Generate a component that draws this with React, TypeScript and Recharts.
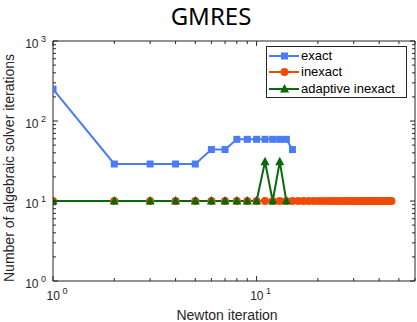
import { LineChart, Line, XAxis, YAxis, Legend } from 'recharts';

// exact Newton: GMRES iterations per Newton step
const exactIter = [1, 2, 3, 4, 5, 6, 7, 8, 9, 10, 11, 12, 13, 14, 15];
const exactCount = [250, 29, 29, 29, 29, 44, 44, 59, 59, 59, 59, 59, 59, 59, 44];

const inexactIter = [
  1, 2, 3, 4, 5, 6, 7, 8, 9, 10, 11, 12, 13, 14, 15, 16, 17, 18, 19, 20, 21, 22, 23,
  24, 25, 26, 27, 28, 29, 30, 31, 32, 33, 34, 35, 36, 37, 38, 39, 40, 41, 42, 43, 44, 45, 46,
];
const inexactCount = [
  10, 10, 10, 10, 10, 10, 10, 10, 10, 10, 10, 10, 10, 10, 10, 10, 10, 10, 10, 10, 10, 10, 10,
  10, 10, 10, 10, 10, 10, 10, 10, 10, 10, 10, 10, 10, 10, 10, 10, 10, 10, 10, 10, 10, 10, 10,
];

const adaptiveIter = [1, 2, 3, 4, 5, 6, 7, 8, 9, 10, 11, 12, 13, 14];
const adaptiveCount = [10, 10, 10, 10, 10, 10, 10, 10, 10, 10, 31, 10, 31, 10];

const xTicks = [1, 2, 3, 4, 5, 6, 7, 8, 9, 10, 20, 30, 40, 50, 60];
const yTicks = [
  1, 2, 3, 4, 5, 6, 7, 8, 9, 10, 20, 30, 40, 50, 60, 70, 80, 90,
  100, 200, 300, 400, 500, 600, 700, 800, 900, 1000,
];
const decades = [1, 10, 100, 1000];

const BLUE = '#4a7cf6';
const ORANGE = '#f04a04';
const GREEN = '#0a6a0a';
const AXIS = '#262626';
const FONT = '"Liberation Sans", Arial, sans-serif';

const exactData = exactIter.map((x, i) => ({ x, y: exactCount[i] }));
const inexactData = inexactIter.map((x, i) => ({ x, y: inexactCount[i] }));
const adaptiveData = adaptiveIter.map((x, i) => ({ x, y: adaptiveCount[i] }));

const isMajor = (v: number) => decades.includes(v);
const expOf = (v: number) => String(Math.round(Math.log10(v)));

function Pow({ x, y, v, anchor }: any) {
  return (
    <text x={x} y={y} textAnchor={anchor} fontSize={12} fill={AXIS} fontFamily={FONT}>
      <tspan>10</tspan>
      <tspan dy={-6} fontSize={9}>{' ' + expOf(v)}</tspan>
    </text>
  );
}

function BottomTick({ x, y, payload }: any) {
  const v = payload.value;
  const m = isMajor(v);
  return (
    <g>
      <line x1={x} x2={x} y1={y} y2={y - (m ? 5 : 3)} stroke={AXIS} />
      {m && <Pow x={x + 4} y={y + 19} v={v} anchor="middle" />}
    </g>
  );
}

function TopTick({ x, y, payload }: any) {
  const m = isMajor(payload.value);
  return <line x1={x} x2={x} y1={y} y2={y + (m ? 5 : 3)} stroke={AXIS} />;
}

function LeftTick({ x, y, payload }: any) {
  const v = payload.value;
  const m = isMajor(v);
  return (
    <g>
      <line x1={x} x2={x + (m ? 5 : 3)} y1={y} y2={y} stroke={AXIS} />
      {m && <Pow x={x - 7} y={y + 7} v={v} anchor="end" />}
    </g>
  );
}

function RightTick({ x, y, payload }: any) {
  const m = isMajor(payload.value);
  return <line x1={x} x2={x - (m ? 5 : 3)} y1={y} y2={y} stroke={AXIS} />;
}

function Square({ cx, cy, index }: any) {
  return <rect key={index} x={cx - 3.5} y={cy - 3.5} width={7} height={7} fill={BLUE} />;
}

function Dot({ cx, cy, index }: any) {
  return <circle key={index} cx={cx} cy={cy} r={4} fill={ORANGE} />;
}

function Tri({ cx, cy, index }: any) {
  return (
    <polygon
      key={index}
      points={`${cx},${cy - 5} ${cx - 4.5},${cy + 3.5} ${cx + 4.5},${cy + 3.5}`}
      fill={GREEN}
    />
  );
}

const series = [
  { name: 'exact', color: BLUE, marker: 'square' },
  { name: 'inexact', color: ORANGE, marker: 'circle' },
  { name: 'adaptive inexact', color: GREEN, marker: 'triangle' },
];

function LegendBox() {
  return (
    <div
      style={{
        border: `1px solid ${AXIS}`,
        background: '#fff',
        width: 139,
        height: 49,
        padding: '1px 0 0 0',
        fontFamily: FONT,
        fontSize: 13,
        color: '#000',
        boxSizing: 'content-box',
      }}
    >
      {series.map((s) => (
        <div key={s.name} style={{ display: 'flex', alignItems: 'center', height: 16.3 }}>
          <svg width={34} height={14} style={{ flex: 'none' }}>
            <line x1={2} x2={32} y1={7} y2={7} stroke={s.color} strokeWidth={2} />
            {s.marker === 'square' && <rect x={14} y={3.5} width={7} height={7} fill={s.color} />}
            {s.marker === 'circle' && <circle cx={17.5} cy={7} r={4} fill={s.color} />}
            {s.marker === 'triangle' && (
              <polygon points="17.5,2 13,10.5 22,10.5" fill={s.color} />
            )}
          </svg>
          <span style={{ lineHeight: '14px' }}>{s.name}</span>
        </div>
      ))}
    </div>
  );
}

export default function App() {
  return (
    <div style={{ position: 'absolute', left: 0, top: 0, width: 417, height: 322, background: '#fff' }}>
      <div
        style={{
          position: 'absolute',
          left: 0,
          top: 0,
          width: 417,
          textAlign: 'center',
          fontFamily: '"Noto Sans", sans-serif',
          fontSize: 24,
          lineHeight: '32px',
          color: '#000',
          paddingLeft: 5,
          boxSizing: 'border-box',
        }}
      >
        GMRES
      </div>
      <LineChart width={417} height={322} margin={{ top: 40, right: 1, bottom: 0, left: 0 }}>
        <XAxis
          xAxisId="b"
          dataKey="x"
          type="number"
          scale="log"
          domain={[1, 60]}
          ticks={xTicks}
          interval={0}
          allowDataOverflow
          height={41}
          tickSize={0}
          tickMargin={0}
          tickLine={false}
          tick={<BottomTick />}
          axisLine={{ stroke: AXIS }}
          label={{
            content: () => (
              <text x={227} y={320} textAnchor="middle" fontSize={14} fill={AXIS} fontFamily={FONT}>
                Newton iteration
              </text>
            ),
          }}
        />
        <XAxis
          xAxisId="t"
          orientation="top"
          dataKey="x"
          type="number"
          scale="log"
          domain={[1, 60]}
          ticks={xTicks}
          interval={0}
          allowDataOverflow
          height={1}
          tickSize={0}
          tickMargin={0}
          tickLine={false}
          tick={<TopTick />}
          axisLine={{ stroke: AXIS }}
        />
        <YAxis
          yAxisId="l"
          type="number"
          scale="log"
          domain={[1, 1000]}
          ticks={yTicks}
          interval={0}
          allowDataOverflow
          width={53}
          tickSize={0}
          tickMargin={0}
          tickLine={false}
          tick={<LeftTick />}
          axisLine={{ stroke: AXIS }}
          label={{
            content: () => (
              <text
                transform="translate(14,168) rotate(-90)"
                textAnchor="middle"
                fontSize={14}
                fill={AXIS}
                fontFamily={FONT}
              >
                Number of algebraic solver iterations
              </text>
            ),
          }}
        />
        <YAxis
          yAxisId="r"
          orientation="right"
          type="number"
          scale="log"
          domain={[1, 1000]}
          ticks={yTicks}
          interval={0}
          allowDataOverflow
          width={1}
          tickSize={0}
          tickMargin={0}
          tickLine={false}
          tick={<RightTick />}
          axisLine={{ stroke: AXIS }}
        />
        <Line
          xAxisId="b"
          yAxisId="l"
          data={exactData}
          dataKey="y"
          name="exact"
          stroke={BLUE}
          strokeWidth={2}
          dot={<Square />}
          isAnimationActive={false}
        />
        <Line
          xAxisId="b"
          yAxisId="l"
          data={inexactData}
          dataKey="y"
          name="inexact"
          stroke={ORANGE}
          strokeWidth={2}
          dot={<Dot />}
          isAnimationActive={false}
        />
        <Line
          xAxisId="b"
          yAxisId="l"
          data={adaptiveData}
          dataKey="y"
          name="adaptive inexact"
          stroke={GREEN}
          strokeWidth={2}
          dot={<Tri />}
          isAnimationActive={false}
        />
        <Legend
          layout="vertical"
          align="center"
          verticalAlign="middle"
          content={<LegendBox />}
          wrapperStyle={{ left: 266, top: 46, width: 'auto' }}
        />
      </LineChart>
    </div>
  );
}
